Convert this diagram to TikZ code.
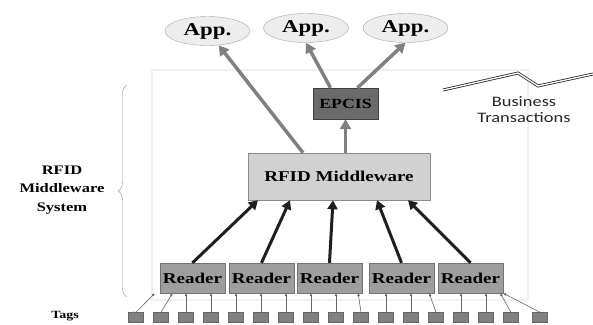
\documentclass[tikz,border=0pt]{standalone}
\usepackage{graphicx}
\usepackage{fontspec}
\setmainfont{Liberation Serif}
\newfontfamily\bizfont{Carlito}
\usetikzlibrary{shapes.geometric,arrows.meta,decorations.pathreplacing}

% the reference text is stretched sideways
\newcommand{\wtext}[1]{\scalebox{1.27}[1]{#1}}

\tikzset{
  appnode/.style={ellipse,draw=black!35,fill=black!7,minimum width=85pt,minimum height=29pt,inner sep=0pt,font=\fontsize{18}{18}\selectfont\bfseries},
  epcisbox/.style={draw=black!75,fill=black!58,minimum width=65pt,minimum height=31pt,inner sep=0pt,font=\fontsize{14}{14}\selectfont\bfseries},
  mwbox/.style={draw=black!45,fill=black!18,minimum width=182pt,minimum height=47pt,inner sep=0pt,font=\fontsize{15}{15}\selectfont\bfseries},
  readerbox/.style={draw=black!55,fill=black!38,minimum width=65pt,minimum height=30pt,inner sep=0pt,font=\fontsize{15}{15}\selectfont\bfseries},
  tagbox/.style={draw=black!60,fill=black!50,minimum width=15pt,minimum height=10pt,inner sep=0pt},
  uparrow/.style={draw=black!50,line width=3.5pt,-{Triangle[length=10pt,width=11pt]}},
  readarrow/.style={draw=black!88,line width=3pt,-{Triangle[length=9pt,width=10pt]}},
  taglink/.style={draw=black!60,line width=0.6pt,-{Latex[length=3pt,width=3pt]}},
}

\begin{document}
\begin{tikzpicture}[x=1pt,y=-1pt]
    \useasboundingbox (0,0) rectangle (593,324);
    % faint frame
    \draw[black!6,line width=1.5pt] (152,70) rectangle (528,300);

    \node[appnode] (app1) at (207.5,31) {\wtext{App.}};
    \node[appnode] (app2) at (306,28) {\wtext{App.}};
    \node[appnode] (app3) at (405.5,28) {\wtext{App.}};
    \node[epcisbox] (ep) at (345.5,103.5) {\wtext{EPCIS}};
    \node[mwbox] (mw) at (339,176.5) {\wtext{RFID Middleware}};

    \foreach \i/\x in {1/192.5,2/261.5,3/329.5,4/401.5,5/470.5}
        \node[readerbox] (r\i) at (\x,278) {\wtext{Reader}};
    \foreach \i in {1,...,16}
        \node[tagbox] (t\i) at ({136+25*(\i-1)},317.5) {};
    \node[tagbox] (t17) at (540,317.5) {};

    % tags to readers
    \foreach \t/\r in {3/1,4/1,5/2,6/2,7/2,8/3,9/3,11/4,12/4,14/5,15/5}
        \draw[taglink] (t\t.north) -- (t\t.north |- r\r.south);
    \draw[taglink] (t1.north) -- ([xshift=-5pt]r1.south west);
    \draw[taglink] (t2.north) -- ([xshift=-20pt]r1.south);
    \draw[taglink] (t10.north) -- ([xshift=-4pt]r3.south east);
    \draw[taglink] (t13.north) -- ([xshift=-5pt]r4.south east);
    \draw[taglink] (t16.north) -- ([xshift=-3pt]r5.south east);
    \draw[taglink] (t17.north) -- (r5.south east);

    % readers to middleware
    \foreach \r/\s in {1/-81,2/-49,3/-6,4/38,5/69}
        \draw[readarrow] (r\r.north) -- ([xshift=\s pt]mw.south);

    % upwards
    \draw[uparrow] ([xshift=-36pt]mw.north) -- (app1);
    \draw[uparrow] ([xshift=-15pt]ep.north) -- (app2.south);
    \draw[uparrow] ([xshift=12pt]ep.north) -- (app3.south);
    \draw[uparrow] (ep.south |- mw.north) -- (ep.south);

    % braces and labels
    \draw[black!45,decorate,decoration={brace,amplitude=9pt}] (127,297) -- (127,85);
    \node[font=\fontsize{13}{18.5}\selectfont\bfseries] (sys) at (62,189)
        {\wtext{\begin{tabular}{@{}c@{}}RFID\\Middleware\\System\end{tabular}}};
    \draw[black!45,decorate,decoration={brace,amplitude=2.5pt}] (134,323) -- (134,311);
    \node[font=\fontsize{11}{11}\selectfont\bfseries] (tags) at (65,316) {\wtext{Tags}};

    % business transactions
    \draw[black!85,double,double distance=1.3pt,line width=0.8pt] (443,90) -- (518,73) -- (538,86) -- (593,74);
    \node[font=\bizfont\fontsize{14.5}{16}\selectfont,text=black!85,align=center] (biz) at (524,110)
        {\wtext{Business}\\\wtext{Transactions}};
\end{tikzpicture}
\end{document}
